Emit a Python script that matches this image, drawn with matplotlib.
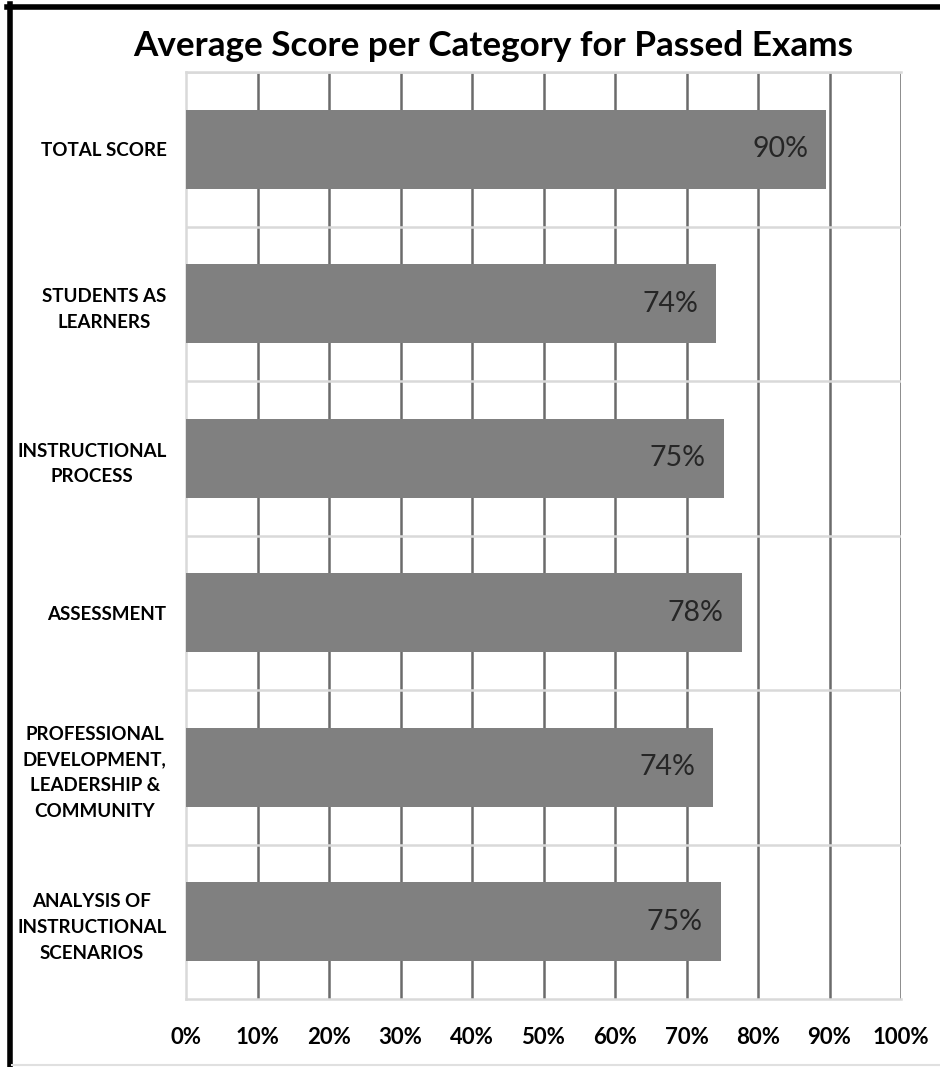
import matplotlib
matplotlib.use("Agg")
import matplotlib.pyplot as plt
from matplotlib.lines import Line2D
from matplotlib.ticker import FuncFormatter

plt.rcParams['font.family'] = ['Lato', 'DejaVu Sans']

categories = [
    "TOTAL SCORE",
    "STUDENTS AS\nLEARNERS",
    "INSTRUCTIONAL\nPROCESS",
    "ASSESSMENT",
    "PROFESSIONAL\nDEVELOPMENT,\nLEADERSHIP &\nCOMMUNITY",
    "ANALYSIS OF\nINSTRUCTIONAL\nSCENARIOS",
]
values = [0.895, 0.741, 0.752, 0.777, 0.737, 0.748]
labels = ["90%", "74%", "75%", "78%", "74%", "75%"]
xticks = [0, 0.1, 0.2, 0.3, 0.4, 0.5, 0.6, 0.7, 0.8, 0.9, 1.0]

W, H = 940, 1067
fig = plt.figure(figsize=(W / 100, H / 100), dpi=100)
ax = fig.add_axes([186 / W, 1 - 999 / H, (901 - 186) / W, (999 - 72) / H])

n = len(categories)
ypos = [n - 1 - i + 0.5 for i in range(n)]
ax.barh(ypos, values, height=0.51, color="#808080", zorder=3)

for y, v, lab in zip(ypos, values, labels):
    ax.text(v - 0.025, y, lab, ha="right", va="center", fontsize=20.5,
            color="#262626", zorder=4)

ax.set_xlim(0, 1.0)
ax.set_ylim(0, n)
ax.set_xticks(xticks)
ax.xaxis.set_major_formatter(FuncFormatter(lambda x, p: f"{x*100:.0f}%"))
ax.set_yticks(ypos)
ax.set_yticklabels(categories, fontsize=13.5, fontweight="bold",
                   multialignment="center", linespacing=1.62)
ax.tick_params(axis="x", length=0, pad=20, labelsize=16)
ax.tick_params(axis="y", length=0, pad=14)
for t in ax.get_xticklabels():
    t.set_fontweight("bold")

# vertical dark grid lines
for x in xticks[1:]:
    ax.axvline(x, color="#6b6b6b", lw=1.8, zorder=1)
# horizontal light separators
for y in range(1, n + 1):
    ax.axhline(y, color="#d9d9d9", lw=1.8, zorder=2)

ax.spines["right"].set_visible(False)
for s in ["left", "bottom", "top"]:
    ax.spines[s].set_color("#d9d9d9")
    ax.spines[s].set_linewidth(1.8)
    ax.spines[s].set_zorder(2)

fig.text(493 / W, 1 - 46 / H, "Average Score per Category for Passed Exams",
         ha="center", va="center", fontsize=25.3, fontweight="bold")

# outer frame lines
fig.add_artist(Line2D([9.8 / W, 9.8 / W], [0, 1 - 4 / H], color="black", lw=4,
                      transform=fig.transFigure))
fig.add_artist(Line2D([7 / W, 1], [1 - 6.7 / H, 1 - 6.7 / H], color="black", lw=4,
                      transform=fig.transFigure))
fig.add_artist(Line2D([12 / W, 1], [1 - 1065 / H, 1 - 1065 / H], color="#e0e0e0",
                      lw=1.5, transform=fig.transFigure))

fig.savefig("out.png", dpi=100)
